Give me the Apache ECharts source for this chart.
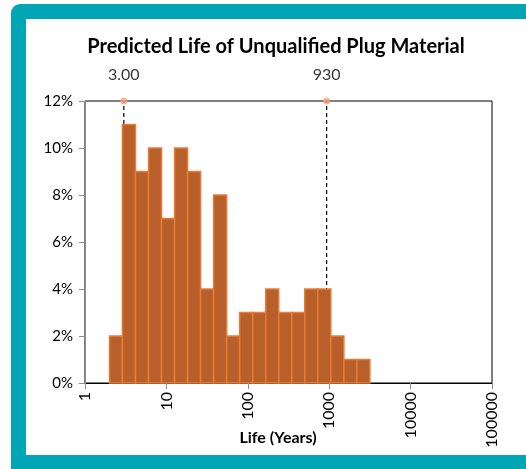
<!DOCTYPE html>
<html>
<head>
<meta charset="utf-8">
<script src="https://cdn.jsdelivr.net/npm/echarts@6/dist/echarts.min.js"></script>
<style>
  html, body { margin: 0; padding: 0; background: #ffffff; }
  #chart { width: 526px; height: 469px; }
</style>
</head>
<body>
<div id="chart"></div>
<script>
// Histogram bin edges (years, log-spaced) and share of units per bin (%)
const binEdges = [2.0, 2.88, 4.17, 6.03, 8.71, 12.6, 18.2, 26.3, 38.0, 55.0, 79.4,
                  115, 166, 240, 347, 501, 724, 1047, 1514, 2188, 3162];
const binPercent = [2, 11, 9, 10, 7, 10, 9, 4, 8, 2, 3, 3, 4, 3, 3, 4, 4, 2, 1, 1];

// Reference life markers drawn at the top of the plot
const markerLife = [3.0, 930];
const markerText = ['3.00', '930'];

// Axis ticks
const xTickValues = [1, 10, 100, 1000, 10000, 100000];
const yMax = 12;

const bars = binPercent.map((p, i) => [binEdges[i], binEdges[i + 1], p]);

const font = 'Lato, "Open Sans", sans-serif';
const chart = echarts.init(document.getElementById('chart'), null, { renderer: 'canvas' });

const option = {
  animation: false,
  backgroundColor: '#ffffff',
  graphic: [
    { type: 'rect', z: -10, silent: true,
      shape: { x: 11, y: 4, width: 700, height: 600, r: 9 },
      style: { fill: '#00a6b6' } },
    { type: 'rect', z: -9, silent: true,
      shape: { x: 26, y: 19, width: 700, height: 436 },
      style: { fill: '#ffffff' } },
    { type: 'text', z: 10, x: 276, y: 47,
      style: { text: 'Predicted Life of Unqualified Plug Material',
               align: 'center', verticalAlign: 'middle',
               font: 'bold 20px ' + font, fill: '#000000' } },
    { type: 'text', z: 10, x: 278, y: 438,
      style: { text: 'Life (Years)', align: 'center', verticalAlign: 'middle',
               font: 'bold 16px ' + font, fill: '#000000' } }
  ],
  grid: {
    left: 85, right: 34, top: 101, bottom: 86,
    show: true, borderColor: '#000000', borderWidth: 1, backgroundColor: 'transparent'
  },
  xAxis: {
    type: 'log', logBase: 10, min: 1, max: 100000,
    axisLine: { show: true, lineStyle: { color: '#000000', width: 1 } },
    axisTick: { show: true, length: 6, lineStyle: { color: '#8c8c8c' } },
    splitLine: { show: false },
    minorTick: { show: false },
    axisLabel: {
      rotate: 90, margin: 9, color: '#000000', fontSize: 16, fontFamily: font,
      formatter: v => {
        const hit = xTickValues.find(t => Math.abs(Math.log10(t) - Math.log10(v)) < 1e-6);
        return hit !== undefined ? String(hit) : '';
      }
    }
  },
  yAxis: {
    type: 'value', min: 0, max: yMax, interval: 2,
    axisLine: { show: true, lineStyle: { color: '#8c8c8c', width: 1 } },
    axisTick: { show: true, length: 6, lineStyle: { color: '#8c8c8c' } },
    splitLine: { show: false },
    axisLabel: {
      color: '#000000', fontSize: 15, fontFamily: font, margin: 12,
      formatter: '{value}%'
    }
  },
  series: [
    // dashed drop lines from the markers
    ...markerLife.map(v => ({
      type: 'line', z: 1, silent: true, symbol: 'none',
      data: [[v, 0], [v, yMax]],
      lineStyle: { color: '#000000', width: 1.2, type: [4, 3] }
    })),
    {
      type: 'custom', z: 3,
      data: bars,
      renderItem: (params, api) => {
        const p0 = api.coord([api.value(0), api.value(2)]);
        const p1 = api.coord([api.value(1), 0]);
        return {
          type: 'rect',
          shape: { x: p0[0], y: p0[1], width: p1[0] - p0[0], height: p1[1] - p0[1] },
          style: { fill: '#b9602a', stroke: '#e57c37', lineWidth: 1.5 }
        };
      },
      encode: { x: [0, 1], y: 2 }
    },
    {
      type: 'scatter', z: 5, clip: false,
      symbol: 'circle', symbolSize: 7,
      itemStyle: { color: '#f3a27c' },
      data: markerLife.map((v, i) => ({ value: [v, yMax], name: markerText[i] })),
      label: {
        show: true, position: 'top', distance: 15,
        formatter: p => p.name,
        color: '#000000', fontSize: 16, fontFamily: font
      }
    }
  ]
};

chart.setOption(option);
</script>
</body>
</html>
